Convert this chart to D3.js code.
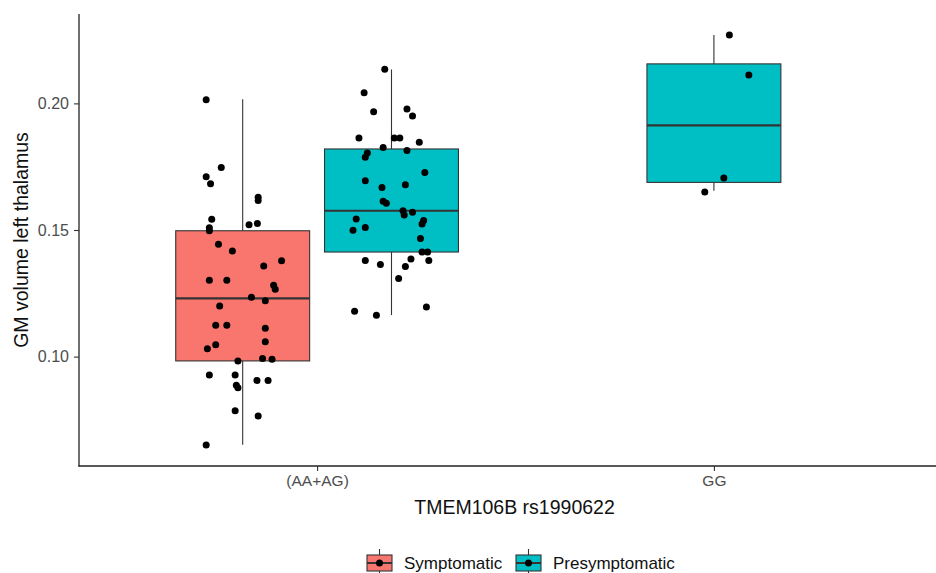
<!DOCTYPE html>
<html>
<head>
<meta charset="utf-8">
<script src="https://cdn.jsdelivr.net/npm/d3@7"></script>
<style>
  body { margin: 0; background: #fff; }
  svg { display: block; font-family: "Liberation Sans", Arial, sans-serif; }
</style>
</head>
<body>
<svg id="chart" width="936" height="573"></svg>
<script>
// ---- Data ----
const categories = ["(AA+AG)", "GG"];
const groups = ["Symptomatic", "Presymptomatic"];
const groupColors = ["#F8766D", "#00BFC4"];
const yTicks = [0.10, 0.15, 0.20];

// Box statistics: [category, group, whiskerLow, q1, median, q3, whiskerHigh]
const boxStats = [
  ["(AA+AG)", "Symptomatic",    0.0652, 0.0983, 0.1230, 0.1497, 0.2016],
  ["(AA+AG)", "Presymptomatic", 0.1164, 0.1413, 0.1576, 0.1820, 0.2134],
  ["GG",      "Presymptomatic", 0.1655, 0.1688, 0.1913, 0.2156, 0.2270]
];

// Jittered points: [jitter offset in category units, value]
const symptomaticAAAG = [
  [-0.092,0.2014],[-0.054,0.1747],[-0.092,0.1710],[-0.081,0.1683],[0.039,0.1629],
  [0.039,0.1616],[-0.078,0.1542],[-0.084,0.1509],[-0.084,0.1497],[0.016,0.1521],
  [0.037,0.1526],[-0.061,0.1444],[-0.026,0.1417],[0.053,0.1358],[0.098,0.1379],
  [-0.084,0.1302],[-0.040,0.1302],[0.078,0.1282],[0.082,0.1266],[0.022,0.1234],
  [0.057,0.1221],[-0.058,0.1200],[-0.068,0.1124],[-0.040,0.1124],[0.057,0.1112],
  [0.057,0.1059],[-0.068,0.1047],[-0.089,0.1031],[-0.012,0.0983],[0.050,0.0993],
  [0.074,0.0990],[-0.084,0.0927],[-0.019,0.0927],[-0.016,0.0887],[-0.012,0.0877],
  [0.036,0.0906],[0.064,0.0906],[-0.019,0.0786],[0.039,0.0765],[-0.092,0.0651]
];
const presymptomaticAAAG = [
  [-0.017,0.2135],[-0.069,0.2042],[-0.045,0.1967],[0.039,0.1978],[0.053,0.1950],
  [-0.082,0.1863],[0.007,0.1863],[0.021,0.1863],[0.070,0.1847],[-0.021,0.1826],
  [0.039,0.1814],[-0.061,0.1804],[-0.066,0.1787],[0.084,0.1727],[-0.066,0.1694],
  [-0.024,0.1668],[0.035,0.1679],[-0.021,0.1614],[-0.013,0.1606],[0.029,0.1576],
  [0.032,0.1559],[0.053,0.1570],[-0.089,0.1543],[0.081,0.1538],[0.077,0.1524],
  [-0.097,0.1499],[-0.066,0.1510],[0.073,0.1466],[0.077,0.1413],[0.091,0.1413],
  [-0.066,0.1380],[-0.028,0.1364],[0.049,0.1385],[0.094,0.1380],[0.035,0.1356],
  [0.018,0.1308],[-0.093,0.1179],[-0.038,0.1163],[0.088,0.1196]
];
const presymptomaticGG = [
  [0.039,0.2270],[0.088,0.2112],[0.025,0.1705],[-0.023,0.1650]
];
const pointSets = [
  ["(AA+AG)", "Symptomatic", symptomaticAAAG],
  ["(AA+AG)", "Presymptomatic", presymptomaticAAAG],
  ["GG", "Presymptomatic", presymptomaticGG]
];

// ---- Layout ----
const svg = d3.select("#chart");
const panel = { left: 79, right: 952, top: 14, bottom: 466 };

const x = d3.scalePoint().domain(categories).range([panel.left, panel.right]).padding(0.6);
const unit = x.step();
const y = d3.scaleLinear().domain([0.0568, 0.2353]).range([panel.bottom, panel.top]);
const color = d3.scaleOrdinal().domain(groups).range(groupColors);

const dodgeWidth = 0.75, boxWidth = 0.3375;
function groupCenter(cat, grp) {
  const present = boxStats.filter(b => b[0] === cat).map(b => b[1]);
  if (present.length === 1) return x(cat);
  const i = present.indexOf(grp);
  const w = dodgeWidth / present.length;
  return x(cat) + (-dodgeWidth / 2 + w * (i + 0.5)) * unit;
}

const g = svg.append("g");

// Boxes
boxStats.forEach(([cat, grp, lo, q1, med, q3, hi]) => {
  const cx = groupCenter(cat, grp);
  const hw = boxWidth * unit / 2;
  g.append("line").attr("x1", cx).attr("x2", cx).attr("y1", y(hi)).attr("y2", y(q3))
    .attr("stroke", "#333").attr("stroke-width", 1.1);
  g.append("line").attr("x1", cx).attr("x2", cx).attr("y1", y(q1)).attr("y2", y(lo))
    .attr("stroke", "#333").attr("stroke-width", 1.1);
  g.append("rect").attr("x", cx - hw).attr("width", 2 * hw)
    .attr("y", y(q3)).attr("height", y(q1) - y(q3))
    .attr("fill", color(grp)).attr("stroke", "#333").attr("stroke-width", 1.1);
  g.append("line").attr("x1", cx - hw).attr("x2", cx + hw).attr("y1", y(med)).attr("y2", y(med))
    .attr("stroke", "#333").attr("stroke-width", 2.2);
});

// Points
pointSets.forEach(([cat, grp, pts]) => {
  const cx = groupCenter(cat, grp);
  g.selectAll(null).data(pts).enter().append("circle")
    .attr("cx", d => cx + d[0] * unit)
    .attr("cy", d => y(d[1]))
    .attr("r", 3.5)
    .attr("fill", "#000");
});

// Axes
const yAxis = d3.axisLeft(y).tickValues(yTicks).tickFormat(d3.format(".2f")).tickSize(5).tickPadding(5);
const yg = svg.append("g").attr("transform", `translate(${panel.left},0)`).call(yAxis);
yg.select(".domain").remove();
yg.selectAll(".tick line").attr("stroke", "#333").attr("stroke-width", 1.1);
yg.selectAll(".tick text").attr("fill", "#4D4D4D").attr("font-size", 16)
  .attr("font-family", "Liberation Sans, Arial, sans-serif");

const xAxis = d3.axisBottom(x).tickSize(5).tickPadding(4);
const xg = svg.append("g").attr("transform", `translate(0,${panel.bottom})`).call(xAxis);
xg.select(".domain").remove();
xg.selectAll(".tick line").attr("stroke", "#333").attr("stroke-width", 1.1);
xg.selectAll(".tick text").attr("fill", "#4D4D4D").attr("font-size", 15.5)
  .attr("font-family", "Liberation Sans, Arial, sans-serif");

// Axis lines
svg.append("line").attr("x1", panel.left).attr("x2", panel.left)
  .attr("y1", panel.top).attr("y2", panel.bottom + 0.6)
  .attr("stroke", "#222").attr("stroke-width", 1.3);
svg.append("line").attr("x1", panel.left - 0.6).attr("x2", panel.right)
  .attr("y1", panel.bottom).attr("y2", panel.bottom)
  .attr("stroke", "#222").attr("stroke-width", 1.3);

// Axis titles
svg.append("text").attr("x", (panel.left + panel.right) / 2 - 1).attr("y", 514)
  .attr("text-anchor", "middle").attr("font-size", 19.5).attr("fill", "#111")
  .text("TMEM106B rs1990622");
svg.append("text")
  .attr("transform", `translate(28,${(panel.top + panel.bottom) / 2}) rotate(-90)`)
  .attr("text-anchor", "middle").attr("font-size", 19.5).attr("fill", "#111")
  .text("GM volume left thalamus");

// Legend
const legendItems = [
  { grp: "Symptomatic", keyX: 367, textX: 404 },
  { grp: "Presymptomatic", keyX: 516, textX: 553 }
];
const ky = 563;
legendItems.forEach(it => {
  const lg = svg.append("g");
  const cx = it.keyX + 12.5;
  lg.append("line").attr("x1", cx).attr("x2", cx).attr("y1", ky - 14).attr("y2", ky + 14)
    .attr("stroke", "#333").attr("stroke-width", 1.1);
  lg.append("rect").attr("x", it.keyX).attr("y", ky - 8).attr("width", 25).attr("height", 16)
    .attr("fill", color(it.grp)).attr("stroke", "#333").attr("stroke-width", 1.1);
  lg.append("line").attr("x1", it.keyX).attr("x2", it.keyX + 25).attr("y1", ky).attr("y2", ky)
    .attr("stroke", "#333").attr("stroke-width", 2);
  lg.append("circle").attr("cx", cx).attr("cy", ky).attr("r", 3.5).attr("fill", "#000");
  lg.append("text").attr("x", it.textX).attr("y", ky + 6).attr("font-size", 17)
    .attr("fill", "#111").text(it.grp);
});
</script>
</body>
</html>
